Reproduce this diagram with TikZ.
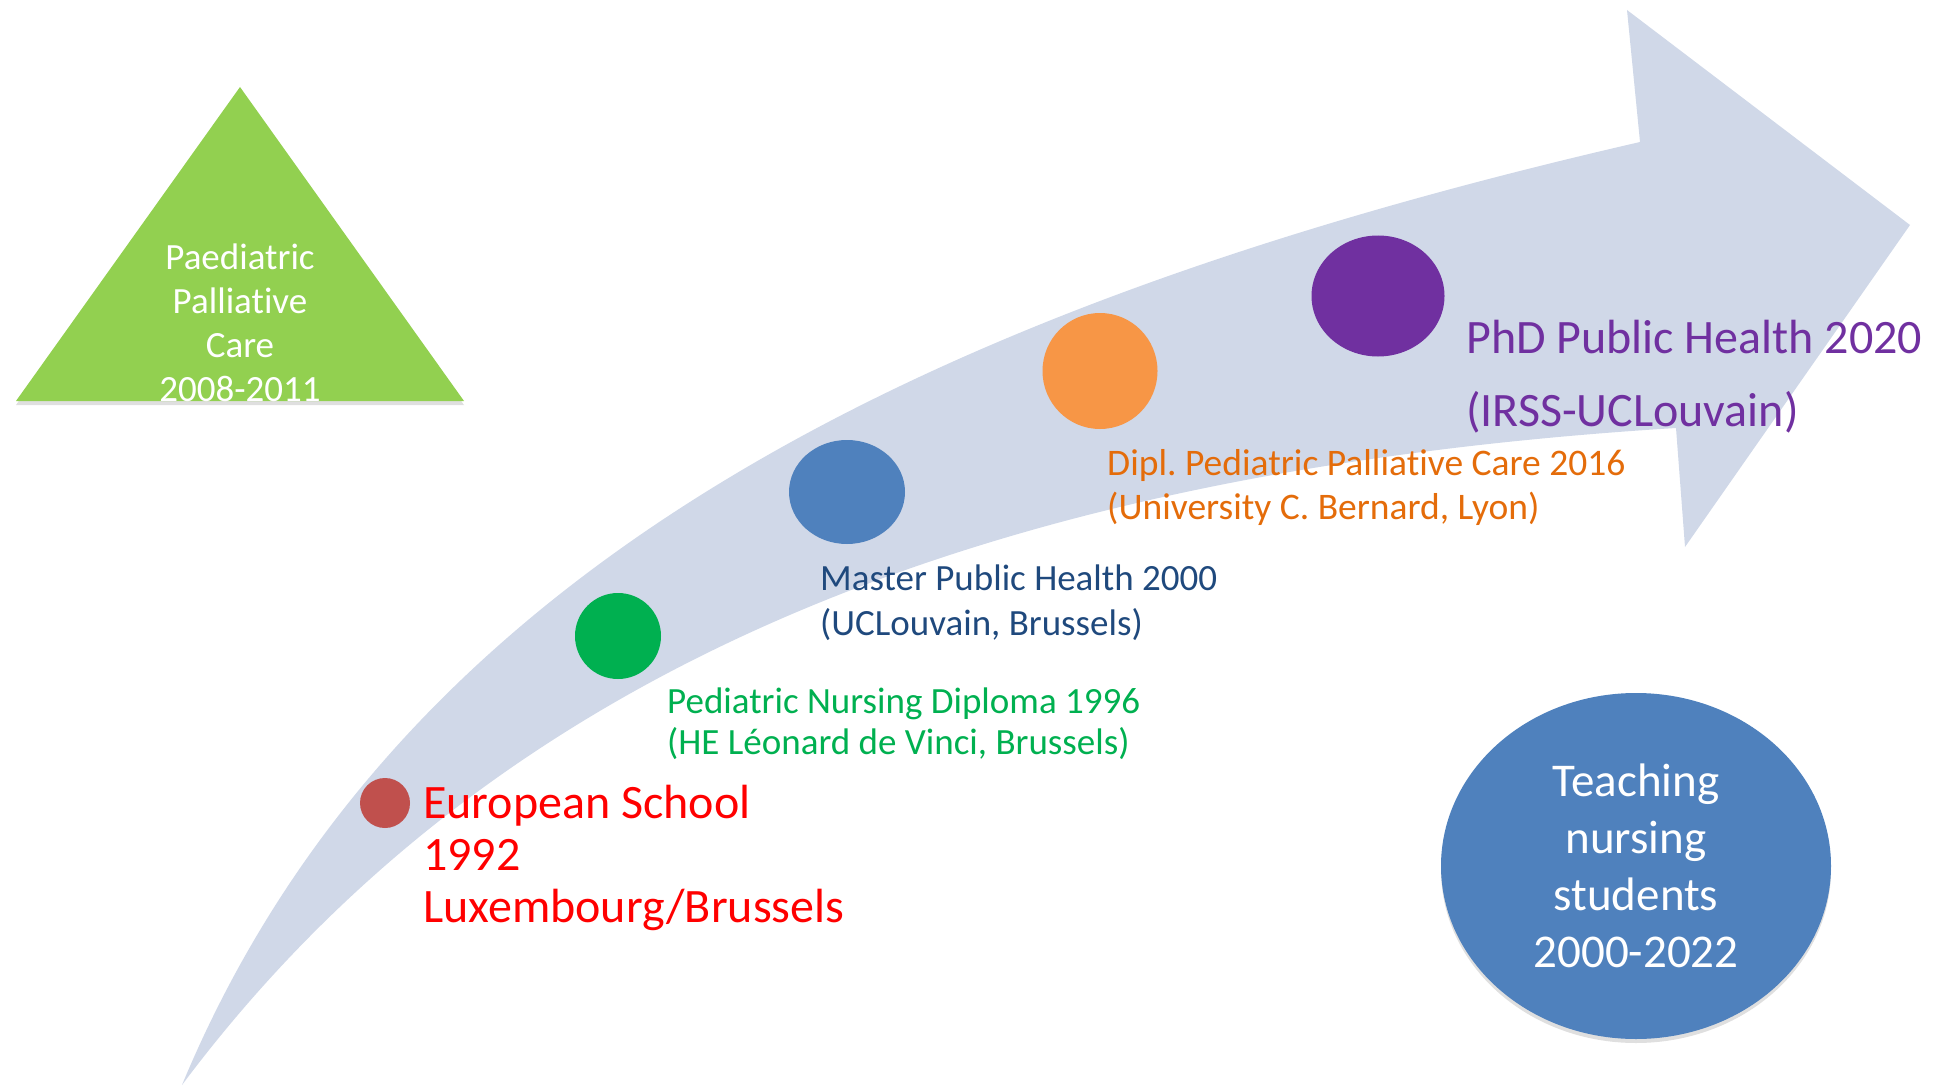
\documentclass[tikz,border=0pt]{standalone}
\usepackage{fontspec}
\setmainfont{Carlito}[Ligatures=NoCommon]
\usetikzlibrary{shapes.geometric, shadows}

\definecolor{bandgray}{RGB}{208,216,232}
\definecolor{leafgreen}{RGB}{146,208,80}
\definecolor{schoolred}{RGB}{192,80,77}
\definecolor{nursegreen}{RGB}{0,176,80}
\definecolor{masterblue}{RGB}{79,129,189}
\definecolor{masternavy}{RGB}{31,73,125}
\definecolor{diplorange}{RGB}{247,150,70}
\definecolor{diplbrown}{RGB}{228,108,10}
\definecolor{phdpurple}{RGB}{112,48,160}

\begin{document}
\begin{tikzpicture}[x=1pt, y=-1pt,
	dot/.style={ellipse, fill=#1, inner sep=0pt},
	event/.style={anchor=base west, align=left, inner sep=0pt, text=#1},
	softshadow/.style={drop shadow={opacity=0.25, shadow xshift=0pt, shadow yshift=-4pt}}]
	\useasboundingbox (0,0) rectangle (1936,1086);

	% the bent arrow
	\fill[bandgray] (182,1085) .. controls (400,560) and (940,303) .. (1640,142)
		-- (1627,10) -- (1910,225) -- (1685,547) -- (1676,428)
		.. controls (1000,470) and (500,660) .. (182,1085) -- cycle;

	% triangle
	\fill[leafgreen, softshadow] (240,87) -- (464,401) -- (16,401) -- cycle;
	\node[text=white, align=center, font=\fontsize{37}{44}\selectfont] (care)
		at (240,323) {Paediatric\\Palliative\\Care\\2008-2011};

	% milestones
	\node[dot=schoolred, minimum width=50, minimum height=50] (school) at (385,803) {};
	\node[dot=nursegreen, minimum width=86, minimum height=86] (nursing) at (618,636) {};
	\node[dot=masterblue, minimum width=116, minimum height=104] (master) at (847,492) {};
	\node[dot=diplorange, minimum width=115, minimum height=116] (dipl) at (1100,371) {};
	\node[dot=phdpurple, minimum width=133, minimum height=121] (phd) at (1378,296) {};

	% base anchor sits on the last line
	\node[event=red, font=\fontsize{48}{52}\selectfont] (schooltext)
		at (423,922) {European School\\1992\\Luxembourg/Brussels};
	\node[event=nursegreen, font=\fontsize{37}{41}\selectfont] (nursingtext)
		at (667,754) {Pediatric Nursing Diploma 1996\\(HE Léonard de Vinci, Brussels)};
	\node[event=masternavy, font=\fontsize{37}{45}\selectfont] (mastertext)
		at (820,635) {Master Public Health 2000\\(UCLouvain, Brussels)};
	\node[event=diplbrown, font=\fontsize{37.5}{44}\selectfont] (dipltext)
		at (1107,519) {Dipl.\ Pediatric Palliative Care 2016\\(University C. Bernard, Lyon)};
	\node[event=phdpurple, font=\fontsize{48}{73}\selectfont] (phdtext)
		at (1466,426) {PhD Public Health 2020\\(IRSS-UCLouvain)};

	% teaching
	\node[dot=masterblue, softshadow, minimum width=390, minimum height=346,
		text=white, align=center, font=\fontsize{47}{57}\selectfont] (teaching)
		at (1636,866) {Teaching\\nursing\\students\\2000-2022};
\end{tikzpicture}
\end{document}
